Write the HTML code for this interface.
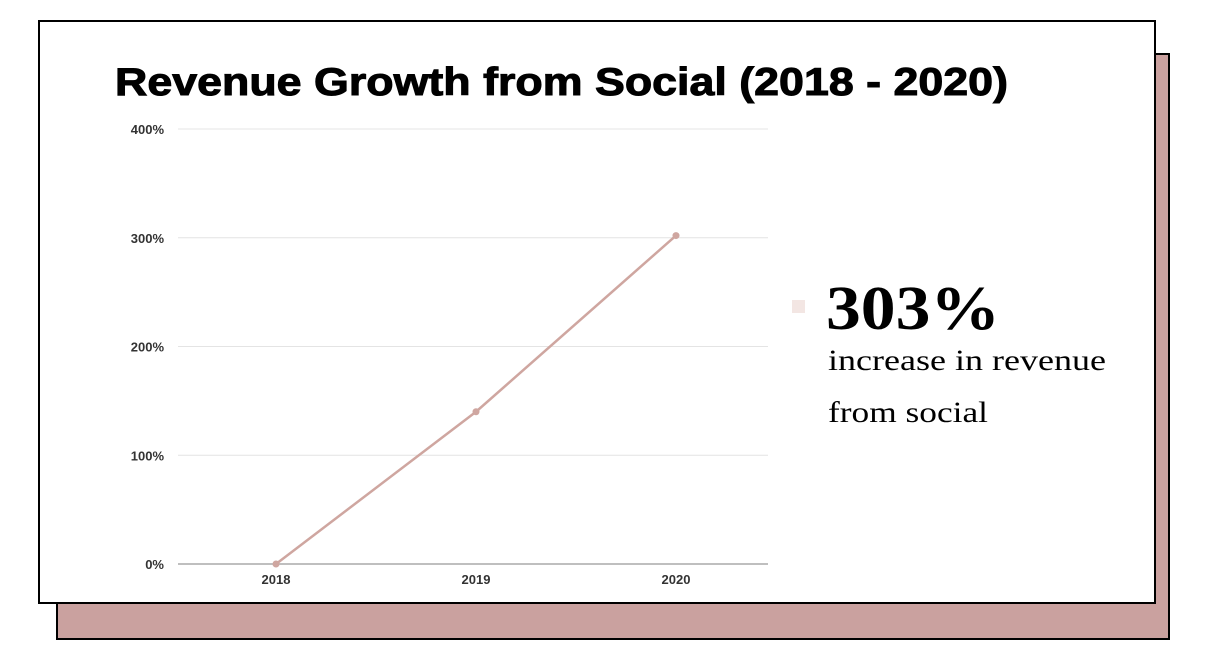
<!DOCTYPE html>
<html><head><meta charset="utf-8"><style>
html,body{margin:0;padding:0;background:#fff;width:1218px;height:654px;overflow:hidden}
svg{display:block}
</style></head><body>
<svg width="1218" height="654" viewBox="0 0 1218 654">
<rect x="57" y="54" width="1112" height="585" fill="#caa19f" stroke="#000" stroke-width="2"/>
<rect x="39" y="21" width="1116" height="582" fill="#fff" stroke="#000" stroke-width="2"/>
<text x="115" y="95" font-family="Liberation Sans, sans-serif" font-weight="bold" font-size="39" textLength="893" lengthAdjust="spacingAndGlyphs" fill="#000" stroke="#000" stroke-width="1">Revenue Growth from Social (2018 - 2020)</text>
<g id="grid"></g>
<g id="marks"></g>
<rect x="792" y="300" width="13" height="13" fill="#f3e6e3"/>
<text x="826" y="329" font-family="Liberation Serif, serif" font-weight="bold" font-size="62" textLength="174" lengthAdjust="spacingAndGlyphs" fill="#000">303%</text>
<text x="828" y="370" font-family="Liberation Serif, serif" font-size="30" textLength="278" lengthAdjust="spacingAndGlyphs" fill="#000">increase in revenue</text>
<text x="828" y="422" font-family="Liberation Serif, serif" font-size="30" textLength="160" lengthAdjust="spacingAndGlyphs" fill="#000">from social</text>
</svg>
<script>
const categories = ["2018","2019","2020"];
const values = [0, 140, 302];
const yTicks = [0, 100, 200, 300, 400];
const yTickLabels = ["0%","100%","200%","300%","400%"];
const NS = "http://www.w3.org/2000/svg";
const x0 = 178, x1 = 768, y0 = 564, y1 = 129;
function yScale(v){ return y0 - (v/400)*(y0-y1); }
function xScale(i){ return 276 + i*200; }
const grid = document.getElementById('grid');
const marks = document.getElementById('marks');
yTicks.forEach((t,i)=>{
  const l = document.createElementNS(NS,'line');
  
  
  l.setAttribute('x1', x0); l.setAttribute('x2', x1);
  l.setAttribute('y1', yScale(t)); l.setAttribute('y2', yScale(t));
  l.setAttribute('stroke', t===0 ? '#aaa' : '#e4e4e4');
  l.setAttribute('stroke-width', t===0 ? 1.5 : 1);
  grid.appendChild(l);
  const tx = document.createElementNS(NS,'text');
  
  
  tx.setAttribute('x', 164); tx.setAttribute('y', yScale(t)+5);
  tx.setAttribute('text-anchor','end');
  tx.setAttribute('font-family','Liberation Sans, sans-serif');
  tx.setAttribute('font-weight','bold');
  tx.setAttribute('font-size','13');
  tx.setAttribute('fill','#333');
  tx.textContent = yTickLabels[i];
  grid.appendChild(tx);
});
categories.forEach((c,i)=>{
  const tx = document.createElementNS(NS,'text');
  
  
  tx.setAttribute('x', xScale(i)); tx.setAttribute('y', 584);
  tx.setAttribute('text-anchor','middle');
  tx.setAttribute('font-family','Liberation Sans, sans-serif');
  tx.setAttribute('font-weight','bold');
  tx.setAttribute('font-size','13');
  tx.setAttribute('fill','#333');
  tx.textContent = c;
  grid.appendChild(tx);
});
const pl = document.createElementNS(NS,'polyline');


pl.setAttribute('points', values.map((v,i)=>xScale(i)+','+yScale(v)).join(' '));
pl.setAttribute('fill','none'); pl.setAttribute('stroke','#cfa6a0'); pl.setAttribute('stroke-width','2.5');
marks.appendChild(pl);
values.forEach((v,i)=>{
  const c = document.createElementNS(NS,'circle');
  
  
  c.setAttribute('cx', xScale(i)); c.setAttribute('cy', yScale(v)); c.setAttribute('r', 3.5);
  c.setAttribute('fill','#cfa6a0');
  marks.appendChild(c);
});
</script>
</body></html>
